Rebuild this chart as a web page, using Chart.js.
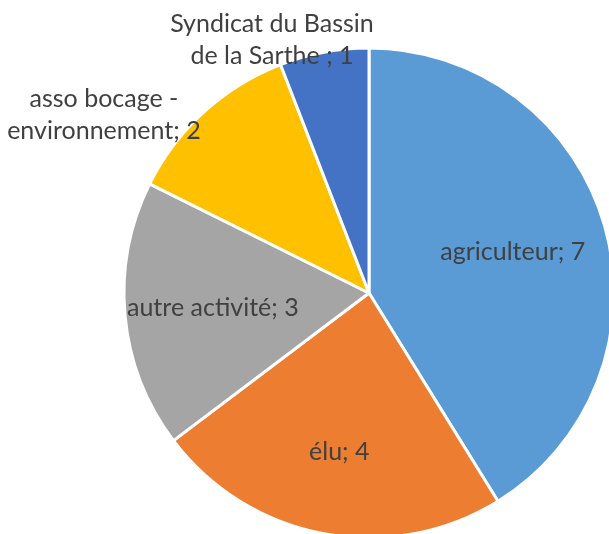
<!DOCTYPE html>
<html>
<head>
<meta charset="utf-8">
<script src="https://cdn.jsdelivr.net/npm/chart.js@4.4.1/dist/chart.umd.min.js"></script>
<style>
  html, body { margin: 0; padding: 0; background: #fff; overflow: hidden; }
  #wrap { width: 609px; height: 534px; overflow: hidden; position: relative; }
  canvas { position: absolute; left: 0; top: 0; }
</style>
</head>
<body>
<div id="wrap"><canvas id="chart" width="738" height="586"></canvas></div>
<script>
var categories = ['agriculteur', 'élu', 'autre activité', 'asso bocage - environnement', 'Syndicat du Bassin de la Sarthe '];
var values = [7, 4, 3, 2, 1];
var colors = ['#5B9BD5', '#ED7D31', '#A5A5A5', '#FFC000', '#4472C4'];

// where each label sits: inside at a fraction of the radius, or outside next to the rim
var placement = [
  { inside: true, f: 0.61 },
  { inside: true, f: 0.66 },
  { inside: true, f: 0.64 },
  { inside: false, dx: -100, dy: 3 },
  { inside: false, dx: -52, dy: -12 }
];

var FONT = '25px Lato';
var LINE_H = 32;
var WRAP = 222;

function wrapText(ctx, text, maxW) {
  var words = text.split(' ');
  var lines = [];
  var cur = '';
  words.forEach(function(w) {
    var test = cur ? cur + ' ' + w : w;
    if (cur && ctx.measureText(test).width > maxW) {
      lines.push(cur);
      cur = w;
    } else {
      cur = test;
    }
  });
  if (cur) lines.push(cur);
  return lines;
}

var sliceLabels = {
  id: 'sliceLabels',
  afterDatasetsDraw: function(chart) {
    var ctx = chart.ctx;
    var meta = chart.getDatasetMeta(0);
    ctx.save();
    ctx.font = FONT;
    ctx.fillStyle = '#404040';
    ctx.textAlign = 'center';
    ctx.textBaseline = 'middle';
    meta.data.forEach(function(arc, i) {
      var p = placement[i];
      var mid = (arc.startAngle + arc.endAngle) / 2;
      var text = categories[i] + '; ' + values[i];
      var lines, x, y;
      if (p.inside) {
        lines = [text];
        x = arc.x + Math.cos(mid) * arc.outerRadius * p.f;
        y = arc.y + Math.sin(mid) * arc.outerRadius * p.f;
      } else {
        lines = wrapText(ctx, text, WRAP);
        x = arc.x + Math.cos(mid) * arc.outerRadius + p.dx;
        y = arc.y + Math.sin(mid) * arc.outerRadius + p.dy;
      }
      var top = y - (lines.length - 1) * LINE_H / 2;
      lines.forEach(function(l, k) {
        ctx.fillText(l, x, top + k * LINE_H);
      });
    });
    ctx.restore();
  }
};

new Chart(document.getElementById('chart'), {
  type: 'pie',
  data: {
    labels: categories,
    datasets: [{
      data: values,
      backgroundColor: colors,
      borderColor: '#ffffff',
      borderWidth: 3
    }]
  },
  options: {
    responsive: false,
    animation: false,
    devicePixelRatio: 1,
    radius: 245,
    layout: { padding: 0 },
    plugins: {
      legend: { display: false },
      tooltip: { enabled: false }
    }
  },
  plugins: [sliceLabels]
});
</script>
</body>
</html>
